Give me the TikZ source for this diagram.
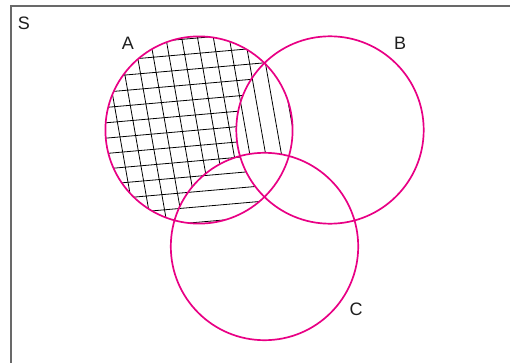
\documentclass[tikz,border=0pt]{standalone}
\usepackage{fontspec}
\setmainfont{Liberation Sans}
\definecolor{venn}{RGB}{232,0,132}
\definecolor{framegray}{RGB}{105,105,105}
\definecolor{txt}{RGB}{30,30,30}
\begin{document}
\begin{tikzpicture}[x=1pt,y=-1pt,
  setcircle/.style={draw=venn,line width=1.7pt},
  hatch/.style={line width=0.8pt,black},
  framestyle/.style={draw=framegray,line width=2pt},
  lbl/.style={font=\fontsize{18}{21}\selectfont,inner sep=0pt,text=txt}]
\useasboundingbox (0,0) rectangle (510,363);
\coordinate (cA) at (199,130);
\coordinate (cB) at (330,130);
\coordinate (cC) at (264.5,246.5);
% frame
\draw[framestyle] (512,6.5) -- (10.5,6.5) -- (10.5,366);
% vertical-ish hatching: A minus C
\begin{scope}
  \clip (cA) circle (93.6);
  \begin{scope}[even odd rule]
    \clip (0,0) rectangle (510,363) (cC) circle (93.7);
    \foreach \k in {-8,...,8}{
      \pgfmathsetmacro{\o}{\k*15.6-1}
      \draw[hatch] ({199+\o*cos(10)-110*sin(10)},{130-\o*sin(10)-110*cos(10)})
        -- ({199+\o*cos(10)+110*sin(10)},{130-\o*sin(10)+110*cos(10)});
    }
  \end{scope}
\end{scope}
% horizontal-ish hatching: A minus B
\begin{scope}
  \clip (cA) circle (93.6);
  \begin{scope}[even odd rule]
    \clip (0,0) rectangle (510,363) (cB) circle (93.7);
    \foreach \k in {-8,...,8}{
      \pgfmathsetmacro{\o}{\k*15.3}
      \draw[hatch] ({199-110*cos(5)+\o*sin(5)},{130+110*sin(5)+\o*cos(5)})
        -- ({199+110*cos(5)+\o*sin(5)},{130-110*sin(5)+\o*cos(5)});
    }
  \end{scope}
\end{scope}
% circles
\draw[setcircle] (cA) circle (93.6);
\draw[setcircle] (cB) circle (93.7);
\draw[setcircle] (cC) circle (93.7);
% labels
\node[lbl] (lS) at (24,23) {S};
\node[lbl] (lA) at (128,43) {A};
\node[lbl] (lB) at (400,43) {B};
\node[lbl] (lC) at (356,309) {C};
\end{tikzpicture}
\end{document}
